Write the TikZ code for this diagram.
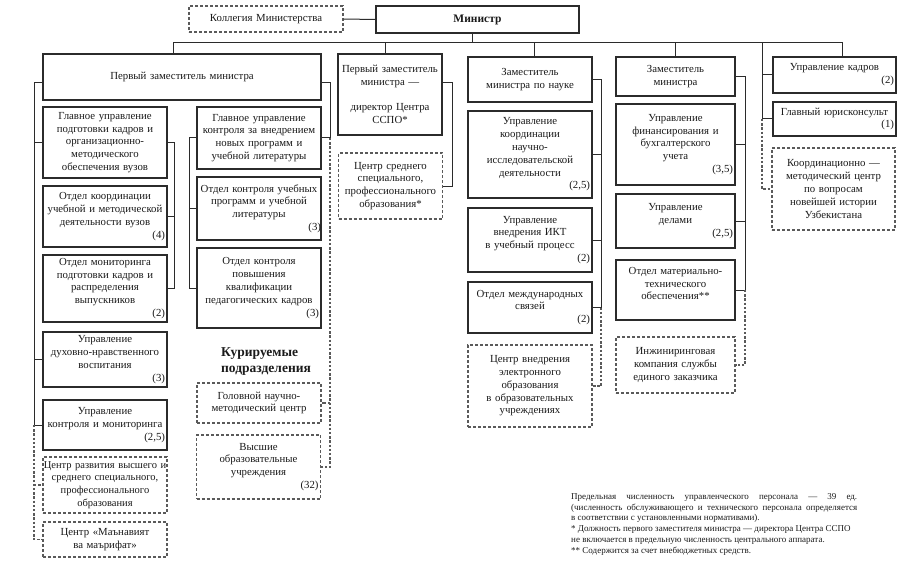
\documentclass[tikz,border=0pt]{standalone}
\usepackage{fontspec}
\setmainfont{Liberation Serif}
\definecolor{linec}{HTML}{2B2B2B}
\definecolor{dashc}{HTML}{5A5A5A}
\definecolor{txt}{HTML}{1A1A1A}
\newcommand{\numr}[1]{\mbox{}\hfill#1}
\newcommand{\bxf}{\fontsize{10.8}{12.8}\selectfont}
\begin{document}
\begin{tikzpicture}[x=1pt,y=-1pt,
  box/.style={draw=linec, line width=1.3pt, inner sep=2pt, align=center, text=txt, font=\bxf},
  dbox/.style={box, draw=dashc, line width=1.1pt, dash pattern=on 3pt off 2pt},
  conn/.style={draw=linec, line width=1pt},
  dconn/.style={draw=dashc, line width=1.1pt, dash pattern=on 2.4pt off 1.8pt},
  colL/.style={text width=120pt, minimum width=124pt},
  colC/.style={text width=104pt, minimum width=104pt, inner sep=0pt},
  colD/.style={text width=115pt, minimum width=119pt},
  colR/.style={text width=119pt, minimum width=123pt}
]
\fill[white] (0,0) rectangle (901,564);
\useasboundingbox (0,0) rectangle (901,564);

% top
\node[dbox, minimum width=154pt, minimum height=26pt, text width=150pt] (kol) at (266,19) {Коллегия Министерства};
\node[box, minimum width=203pt, minimum height=27pt, text width=199pt, font=\bfseries\fontsize{11.5}{13}\selectfont] (min) at (477.5,19.5) {Министр};

% heads
\node[box, minimum width=278pt, minimum height=46pt, text width=274pt] (fd) at (182,77) {Первый заместитель министра};
\node[box, colC, minimum height=81pt] (fd2) at (390,94.5) {Первый заместитель\\министра —\\\mbox{}\\директор Центра\\ССПО*};
\node[box, colL, minimum height=45pt] (sci) at (530,79.5) {Заместитель\\министра по науке};
\node[box, colD, minimum height=39pt] (dep) at (675.5,76.5) {Заместитель\\министра};
\node[box, colR, minimum height=36pt] (kadr) at (834.5,75) {Управление кадров\\\numr{(2)}};
\node[box, colR, minimum height=34pt] (yur) at (834.5,119) {Главный юрисконсульт\\\numr{(1)}};
\node[dbox, colR, minimum height=82pt] (koord) at (833.5,189) {Координационно —\\методический центр\\по вопросам\\новейшей истории\\Узбекистана};

% left column
\node[box, colL, minimum height=71pt] (L1) at (105,142.5) {Главное управление\\подготовки кадров и\\организационно-\\методического\\обеспечения вузов};
\node[box, colL, minimum height=61pt] (L2) at (105,216.5) {Отдел координации\\учебной и методической\\деятельности вузов\\\numr{(4)}};
\node[box, colL, minimum height=67pt] (L3) at (105,288.5) {Отдел мониторинга\\подготовки кадров и\\распределения\\выпускников\\\numr{(2)}};
\node[box, colL, minimum height=55pt] (L4) at (105,359.5) {Управление\\духовно-нравственного\\воспитания\\\numr{(3)}};
\node[box, colL, minimum height=50pt] (L5) at (105,425) {Управление\\контроля и мониторинга\\\numr{(2,5)}};
\node[dbox, colL, minimum height=56pt, inner sep=0pt, text width=124pt, font=\fontsize{10.5}{12.8}\selectfont] (L6) at (105,485) {Центр развития высшего и\\среднего специального,\\профессионального\\образования};
\node[dbox, colL, minimum height=35pt] (L7) at (105,539.5) {Центр «Маънавият\\ва маърифат»};

% middle column
\node[box, colL, minimum height=62pt] (M1) at (259,138) {Главное управление\\контроля за внедрением\\новых программ и\\учебной литературы};
\node[box, colL, minimum height=63pt, inner sep=0pt, text width=124pt] (M2) at (259,208.5) {Отдел контроля учебных\\программ и учебной\\литературы\\\numr{(3)\hspace{6pt}}};
\node[box, colL, minimum height=80pt] (M3) at (259,288) {Отдел контроля\\повышения\\квалификации\\педагогических кадров\\\numr{(3)}};
\node[anchor=west, inner sep=0pt, align=left, text=txt, font=\bfseries\fontsize{13.5}{16}\selectfont] (kur) at (221,362) {Курируемые\\подразделения};
\node[dbox, colL, minimum height=40pt] (H1) at (259,403) {Головной научно-\\методический центр};
\node[dbox, colL, minimum height=64pt] (H2) at (258.5,467) {Высшие\\образовательные\\учреждения\\\numr{(32)}};

% first deputy / SSPO
\node[dbox, colC, minimum height=66pt] (C2) at (390.5,186) {Центр среднего\\специального,\\профессионального\\образования*};

% science column
\node[box, colL, minimum height=87pt] (S1) at (530,154.5) {Управление\\координации\\научно-\\исследовательской\\деятельности\\\numr{(2,5)}};
\node[box, colL, minimum height=64pt] (S2) at (530,240) {Управление\\внедрения ИКТ\\в учебный процесс\\\numr{(2)}};
\node[box, colL, minimum height=51pt] (S3) at (530,307.5) {Отдел международных\\связей\\\numr{(2)}};
\node[dbox, colL, minimum height=82pt] (S4) at (530,386) {Центр внедрения\\электронного\\образования\\в образовательных\\учреждениях};

% deputy column
\node[box, colD, minimum height=81pt] (D1) at (675.5,144.5) {Управление\\финансирования и\\бухгалтерского\\учета\\\numr{(3,5)}};
\node[box, colD, minimum height=54pt] (D2) at (675.5,221) {Управление\\делами\\\numr{(2,5)}};
\node[box, colD, minimum height=60pt] (D3) at (675.5,290) {Отдел материально-\\технического\\обеспечения**\\\mbox{}};
\node[dbox, colD, minimum height=56pt] (D4) at (675.5,365) {Инжиниринговая\\компания службы\\единого заказчика};

% note
\node[anchor=north west, inner sep=0pt, align=left, text=txt, font=\fontsize{9}{10.9}\selectfont] (note) at (571,493)
{\makebox[286pt][s]{Предельная численность управленческого персонала — 39 ед.}\\
\makebox[286pt][s]{(численность обслуживающего и технического персонала определяется}\\
в соответствии с установленными нормативами).\\
* Должность первого заместителя министра — директора Центра ССПО\\
не включается в предельную численность центрального аппарата.\\
** Содержится за счет внебюджетных средств.};

% helper coordinates
\coordinate (bus) at (0,43);
\coordinate (rsp) at (762,43);
\coordinate (lsp) at (34,0);
\coordinate (lb) at (174,0);
\coordinate (mb) at (189,0);
\coordinate (fsp) at (330,0);
\coordinate (csp) at (452,0);
\coordinate (ssp) at (601,0);
\coordinate (dsp) at (745,0);

% top connectors
\draw[conn] (kol.east) -- (min.west);
\draw[conn] ([xshift=-5.5pt]min.south) -- ([xshift=-5.5pt]min.south |- bus);
\draw[conn] ([xshift=-9pt]fd.north) -- ([xshift=-9pt]fd.north |- bus) -- ([xshift=7.5pt]kadr.north |- bus) -- ([xshift=7.5pt]kadr.north);
\draw[conn] ([xshift=-5pt]fd2.north) -- ([xshift=-5pt]fd2.north |- bus);
\draw[conn] ([xshift=4pt]sci.north) -- ([xshift=4pt]sci.north |- bus);
\draw[conn] (dep.north) -- (dep.north |- bus);

% right column
\draw[conn] (rsp) |- (kadr.west);
\draw[conn] (rsp |- kadr.west) |- (yur.west);
\draw[dconn] (rsp |- yur.west) |- (koord.west);

% first deputy: left spine
\draw[conn] ([yshift=-29pt]fd.north west) -| (lsp |- L5.west) -- (L5.west);
\draw[conn] (lsp |- L1.west) -- (L1.west);
\draw[conn] (lsp |- L4.west) -- (L4.west);
\draw[dconn] (lsp |- L5.west) |- (L7.west);
\draw[dconn] (lsp |- L6.west) -- (L6.west);
% L1 bracket
\draw[conn] (L1.east) -| (lb |- L3.east) -- (L3.east);
\draw[conn] (lb |- L2.east) -- (L2.east);
% M1 bracket
\draw[conn] (M1.west) -| (mb |- M3.west) -- (M3.west);
\draw[conn] (mb |- M2.west) -- (M2.west);
% first deputy: right spine
\draw[conn] ([yshift=-29pt]fd.north east) -| (fsp |- M1.east) -- (M1.east);
\draw[dconn] (fsp |- M1.east) |- (H2.east);
\draw[dconn] (fsp |- H1.east) -- (H1.east);

% SSPO
\draw[conn] ([yshift=-29pt]fd2.north east) -| (csp |- C2.east) -- (C2.east);

% science
\draw[conn] (sci.east) -| (ssp |- S3.east) -- (S3.east);
\draw[conn] (ssp |- S1.east) -- (S1.east);
\draw[conn] (ssp |- S2.east) -- (S2.east);
\draw[dconn] (ssp |- S3.east) |- (S4.east);

% deputy
\draw[conn] (dep.east) -| (dsp |- D3.east) -- (D3.east);
\draw[conn] (dsp |- D1.east) -- (D1.east);
\draw[conn] (dsp |- D2.east) -- (D2.east);
\draw[dconn] (dsp |- D3.east) |- (D4.east);
\end{tikzpicture}
\end{document}
